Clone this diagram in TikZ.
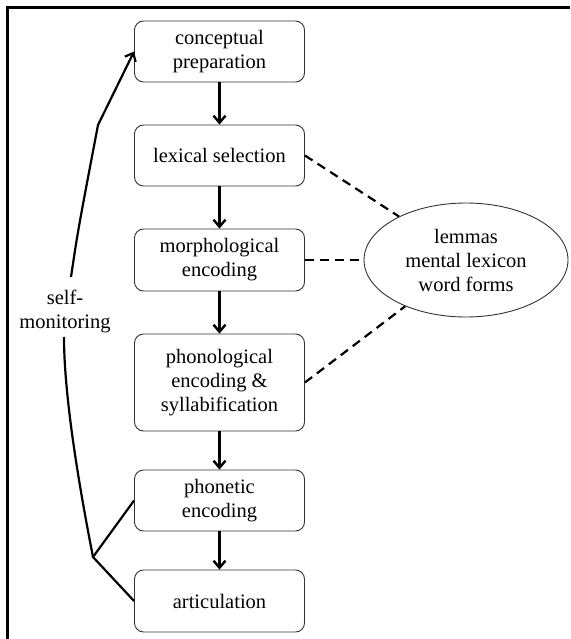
\documentclass[tikz,border=0pt]{standalone}
\usepackage{fontspec}
\setmainfont{Liberation Serif}
\usetikzlibrary{arrows.meta,shapes.geometric}
\begin{document}
\begin{tikzpicture}[x=1pt,y=-1pt,
  stage/.style={draw=black!80, line width=0.9pt, rounded corners=9pt, minimum width=170pt, inner sep=0pt, align=center, font=\fontsize{20.5}{24}\selectfont},
  flow/.style={line width=2.4pt, -{Straight Barb[length=7pt,width=12pt]}},
  link/.style={line width=2.2pt, dash pattern=on 9pt off 6pt},
  mon/.style={line width=2.2pt},
  txt/.style={align=center, inner sep=0pt, font=\fontsize{20.5}{24}\selectfont}]
\useasboundingbox (0,0) rectangle (570,639);
\draw[line width=2.2pt] (570,7.5) -- (7.5,7.5) -- (7.5,639);
\node[stage, minimum height=61pt] (c1) at (219.5,51.5) {conceptual\\preparation};
\node[stage, minimum height=61pt] (c2) at (219.5,155.5) {lexical selection};
\node[stage, minimum height=62pt] (c3) at (219.5,260) {morphological\\encoding};
\node[stage, minimum height=97pt] (c4) at (219.5,382.5) {phonological\\encoding \&\\syllabification};
\node[stage, minimum height=61pt] (c5) at (219.5,500.5) {phonetic\\encoding};
\node[stage, minimum height=62pt] (c6) at (219.5,601) {articulation};
\node[draw=black!80, line width=0.9pt, ellipse, minimum width=204pt, minimum height=114pt, inner sep=0pt, align=center, font=\fontsize{20.5}{24}\selectfont] (lex) at (466,260) {lemmas\\mental lexicon\\word forms};
\node[txt] (sm) at (65,311) {self-\\monitoring};
\draw[flow] (c1) -- (c2);
\draw[flow] (c2) -- (c3);
\draw[flow] (c3) -- (c4);
\draw[flow] (c4) -- (c5);
\draw[flow] (c5) -- (c6);
\draw[link] (c2.east) -- (lex);
\draw[link] (c3.east) -- (lex.west);
\draw[link] (c4.east) -- (lex);
\coordinate (j) at (93,557);
\coordinate (s2) at (64,337);
\coordinate (s1) at (71,277);
\coordinate (k) at (98,125);
\draw[mon] (c5.west) -- (j) -- (c6.west);
\draw[mon] (j) .. controls (72,450) and (64,380) .. (s2);
\draw[mon, -{Straight Barb[length=7pt,width=12pt]}] (s1) .. controls (78,230) .. (k) -- (c1.west);
\end{tikzpicture}
\end{document}
